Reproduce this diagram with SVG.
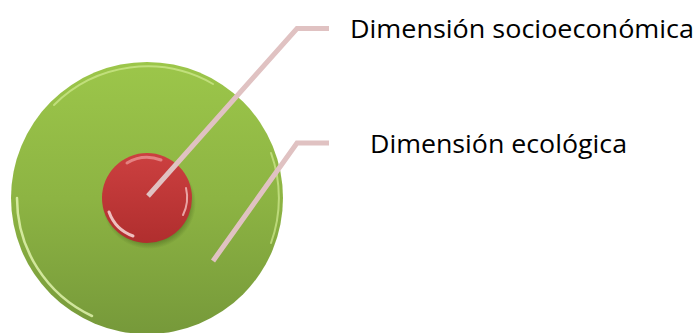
<svg xmlns="http://www.w3.org/2000/svg" width="700" height="333" viewBox="0 0 700 333">
<style>
.lbl{font-family:"Open Sans","Liberation Sans",sans-serif;font-size:25px;fill:#000}
.conn{fill:none;stroke:#e0c2c2;stroke-width:5;stroke-linejoin:miter;stroke-linecap:butt}
.hl{fill:none;stroke-linecap:round}
</style>
<defs>
<linearGradient id="gG" x1="0" y1="0" x2="0" y2="1">
<stop offset="0" stop-color="#9cc64a"/>
<stop offset="0.5" stop-color="#8db443"/>
<stop offset="1" stop-color="#76993a"/>
</linearGradient>
<linearGradient id="gR" x1="0" y1="0" x2="0" y2="1">
<stop offset="0" stop-color="#cc4040"/>
<stop offset="1" stop-color="#b02e2e"/>
</linearGradient>
<radialGradient id="gShadow" cx="0.5" cy="0.5" r="0.5">
<stop offset="0.85" stop-color="#4e6b20" stop-opacity="0.6"/>
<stop offset="1" stop-color="#4e6b20" stop-opacity="0"/>
</radialGradient>
</defs>
<g id="outer">
<circle cx="147" cy="198" r="136" fill="url(#gG)"/>
<path class="hl" d="M 17 198 A 130 130 0 0 0 92 316" stroke="#e6f7b4" stroke-width="2.5" opacity="0.8"/>
<path class="hl" d="M 54 105 A 132 132 0 0 1 213 84" stroke="#d2eb92" stroke-width="2" opacity="0.7"/>
<path class="hl" d="M 271 153 A 132 132 0 0 1 271 243" stroke="#d2eb92" stroke-width="2" opacity="0.7"/>
</g>
<g id="inner">
<ellipse cx="149" cy="203" rx="47" ry="46" fill="url(#gShadow)"/>
<circle cx="147" cy="198" r="45" fill="url(#gR)"/>
<path class="hl" d="M 109 212 A 40 40 0 0 0 133 236" stroke="#f8d8d8" stroke-width="3" opacity="0.85"/>
<path class="hl" d="M 127 163 A 40 40 0 0 1 161 160" stroke="#f0a0a0" stroke-width="3" opacity="0.7"/>
<path class="hl" d="M 186 188 A 40 40 0 0 1 183 215" stroke="#f4c0c0" stroke-width="2" opacity="0.8"/>
</g>
<g id="connectors">
<polyline class="conn" points="148,196 297,28.5 329,28.5"/>
<polyline class="conn" points="213,261 297,143 329,143"/>
</g>
<g id="label1"><text class="lbl" x="350" y="37.5" textLength="344" lengthAdjust="spacingAndGlyphs">Dimensión socioeconómica</text></g>
<g id="label2"><text class="lbl" x="370" y="152.5" textLength="257" lengthAdjust="spacingAndGlyphs">Dimensión ecológica</text></g>
</svg>
